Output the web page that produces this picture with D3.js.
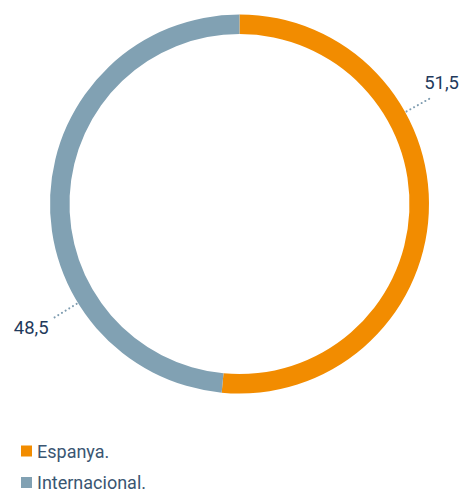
<!DOCTYPE html>
<html>
<head>
<meta charset="utf-8">
<script src="https://cdn.jsdelivr.net/npm/d3@7"></script>
<style>
  html, body { margin: 0; padding: 0; background: #ffffff; }
  svg { display: block; }
  text { font-family: Roboto, "Noto Sans", sans-serif; font-weight: 400; }
</style>
</head>
<body>
<svg id="chart" width="464" height="492"></svg>
<script>
// Share of total, in percent
const categories = ["Espanya.", "Internacional."];
const values = [51.5, 48.5];
const valueLabels = ["51,5", "48,5"];
const colors = ["#F28C00", "#81A1B3"];

const width = 464, height = 492;
const cx = 239.5, cy = 204;
const outerR = 189.5, innerR = 170;

const svg = d3.select("#chart");

const pie = d3.pie().sort(null).value(d => d.value);
const arcs = pie(categories.map((c, i) => ({ name: c, value: values[i], label: valueLabels[i], color: colors[i] })));

const arc = d3.arc().innerRadius(innerR).outerRadius(outerR);

const g = svg.append("g").attr("transform", `translate(${cx},${cy})`);

g.selectAll("path.slice")
  .data(arcs)
  .join("path")
  .attr("class", "slice")
  .attr("d", arc)
  .attr("fill", d => d.data.color);

// Leader lines with value labels, set at fixed angles around the ring
const leaderAngles = [61 * Math.PI / 180, 238.5 * Math.PI / 180];
const leaderFrom = outerR + 1.5, leaderTo = 218;
const polar = (a, r) => [Math.sin(a) * r, -Math.cos(a) * r];

arcs.forEach((d, i) => {
  const a = leaderAngles[i];
  const p0 = polar(a, leaderFrom), p1 = polar(a, leaderTo);
  g.append("line")
    .attr("x1", p0[0]).attr("y1", p0[1])
    .attr("x2", p1[0]).attr("y2", p1[1])
    .attr("stroke", "#7E9CB0")
    .attr("stroke-width", 2)
    .attr("stroke-linecap", "round")
    .attr("stroke-dasharray", "0.1 4.2");
  const right = Math.sin(a) > 0;
  g.append("text")
    .attr("x", right ? p1[0] - 6 : p1[0] - 5)
    .attr("y", right ? p1[1] - 9 : p1[1] + 16)
    .attr("text-anchor", right ? "start" : "end")
    .attr("font-size", 18.5)
    .attr("fill", "#1F3A5C")
    .text(d.data.label);
});

// Legend
const legend = svg.append("g").attr("transform", "translate(21,445.5)");
const item = legend.selectAll("g")
  .data(arcs)
  .join("g")
  .attr("transform", (d, i) => `translate(0,${i * 31.5})`);
item.append("rect")
  .attr("width", 11).attr("height", 11)
  .attr("fill", d => d.data.color);
item.append("text")
  .attr("x", 16).attr("y", 12)
  .attr("font-size", 18)
  .attr("fill", "#3A5672")
  .text(d => d.data.name);
</script>
</body>
</html>
